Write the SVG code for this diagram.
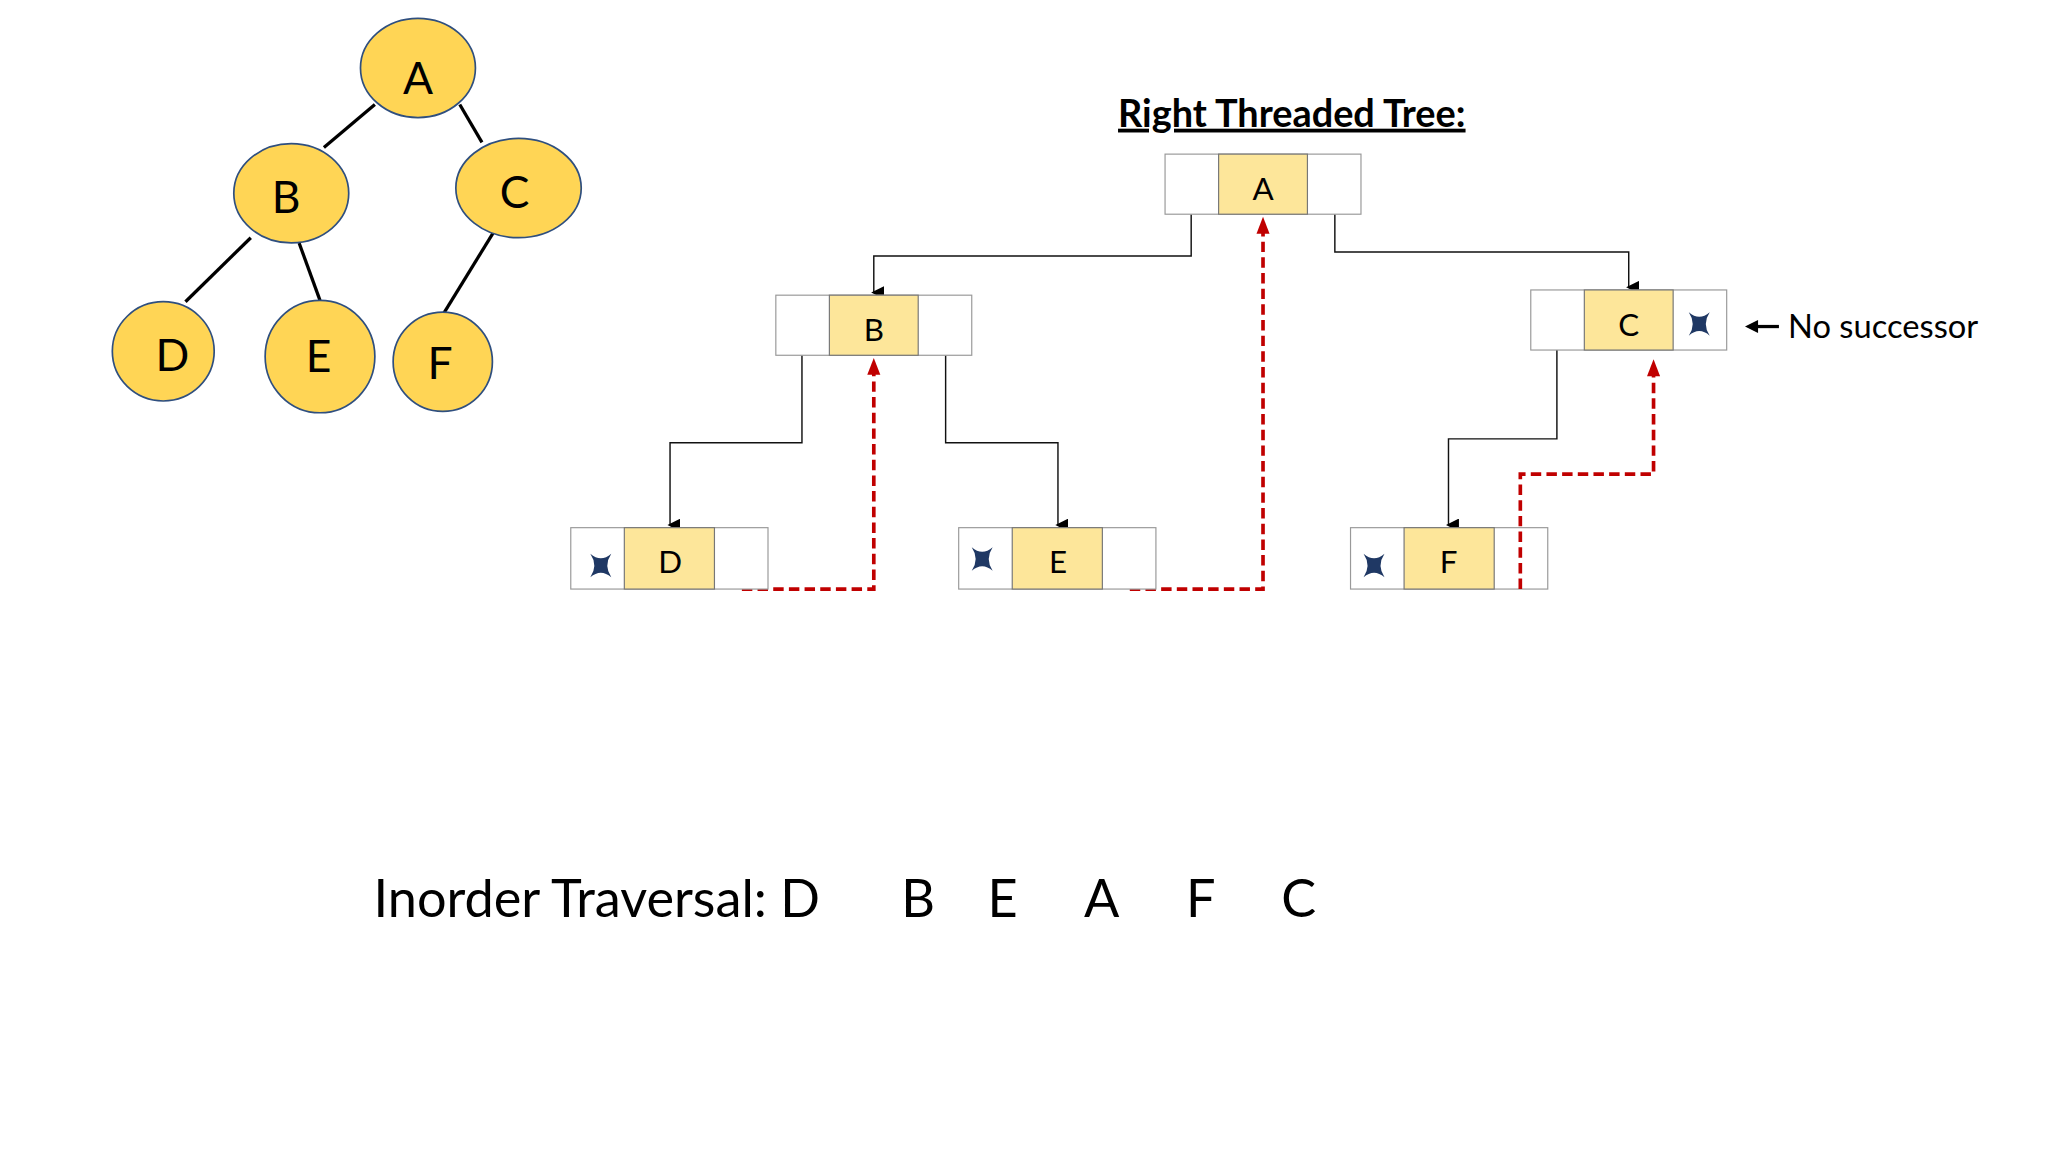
<svg xmlns="http://www.w3.org/2000/svg" width="2048" height="1152" viewBox="0 0 2048 1152">
<defs>
<style>
.el{fill:#ffd555;stroke:#2f4f7f;stroke-width:1.3}
.t{font-family:Lato,"Liberation Sans",sans-serif;fill:#000}
.edge{stroke:#000;stroke-width:2.5}
.cell{fill:#fff;stroke:#999;stroke-width:0.9}
.mid{fill:#fde69a;stroke:#777;stroke-width:0.9}
.con{fill:none;stroke:#111;stroke-width:1.1}
.thr{fill:none;stroke:#c00000;stroke-width:2.8;stroke-dasharray:8,4}
.x{fill:#1f3864}
</style>
<marker id="ab" markerWidth="10" markerHeight="10" refX="5" refY="8" orient="auto-start-reverse" markerUnits="userSpaceOnUse" viewBox="0 0 10 10"><path d="M0,0 L10,0 L5,10 z" fill="#000" transform="rotate(0)"/></marker>
<marker id="ar" markerWidth="10" markerHeight="10" refX="5" refY="2" orient="0" markerUnits="userSpaceOnUse" viewBox="0 0 10 10"><path d="M5,0 L10,10 L0,10 z" fill="#c00000"/></marker>
<path id="xm" d="M-8,-9 Q0,-2 8,-9 Q2,0 8,9 Q0,2 -8,9 Q-2,0 -8,-9 z"/>
</defs>
<rect width="2048" height="1152" fill="#fff"/>
<g transform="scale(1.30612)">
<g id="tree-edges">
<line class="edge" x1="287" y1="80" x2="248" y2="113"/>
<line class="edge" x1="352" y1="80" x2="369" y2="109"/>
<line class="edge" x1="192" y1="182" x2="142" y2="231"/>
<line class="edge" x1="229" y1="186" x2="245" y2="230"/>
<line class="edge" x1="379" y1="176" x2="339" y2="241"/>
</g>
<g id="tA"><ellipse class="el" cx="320" cy="52" rx="44" ry="38"/><text class="t" x="320" y="72" font-size="34" text-anchor="middle">A</text></g>
<g id="tB"><ellipse class="el" cx="223" cy="148" rx="44" ry="38"/><text class="t" x="219" y="163" font-size="34" text-anchor="middle">B</text></g>
<g id="tC"><ellipse class="el" cx="397" cy="144" rx="48" ry="38"/><text class="t" x="394" y="159" font-size="34" text-anchor="middle">C</text></g>
<g id="tD"><ellipse class="el" cx="125" cy="269" rx="39" ry="38"/><text class="t" x="132" y="284" font-size="34" text-anchor="middle">D</text></g>
<g id="tE"><ellipse class="el" cx="245" cy="273" rx="42" ry="43"/><text class="t" x="244" y="285" font-size="34" text-anchor="middle">E</text></g>
<g id="tF"><ellipse class="el" cx="339" cy="277" rx="38" ry="38"/><text class="t" x="337" y="290" font-size="34" text-anchor="middle">F</text></g>

<text class="t" x="856" y="97" font-size="29" font-weight="bold" text-decoration="underline">Right Threaded Tree:</text>

<g id="connectors">
<polyline class="con" points="912,164 912,196 669,196 669,224" marker-end="url(#ab)"/>
<polyline class="con" points="1022,164 1022,193 1247,193 1247,220" marker-end="url(#ab)"/>
<polyline class="con" points="614,272 614,339 513,339 513,402" marker-end="url(#ab)"/>
<polyline class="con" points="724,272 724,339 810,339 810,402" marker-end="url(#ab)"/>
<polyline class="con" points="1192,268 1192,336 1109,336 1109,402" marker-end="url(#ab)"/>
<polyline class="thr" points="568,451 669,451 669,282" />
<path d="M664,287 L669,274 L674,287 z" fill="#c00000"/>
<polyline class="thr" points="865,451 967,451 967,174"/>
<path d="M962,179 L967,166 L972,179 z" fill="#c00000"/>
<polyline class="thr" points="1164,451 1164,363 1266,363 1266,283"/>
<path d="M1261,288 L1266,275 L1271,288 z" fill="#c00000"/>
</g>

<g id="nA"><rect class="cell" x="892" y="118" width="150" height="46"/><rect class="mid" x="933" y="118" width="68" height="46"/><text class="t" x="967" y="153" font-size="24" text-anchor="middle">A</text></g>
<g id="nB"><rect class="cell" x="594" y="226" width="150" height="46"/><rect class="mid" x="635" y="226" width="68" height="46"/><text class="t" x="669" y="261" font-size="24" text-anchor="middle">B</text></g>
<g id="nC"><rect class="cell" x="1172" y="222" width="150" height="46"/><rect class="mid" x="1213" y="222" width="68" height="46"/><text class="t" x="1247" y="257" font-size="24" text-anchor="middle">C</text><use href="#xm" class="x" x="1301" y="248"/></g>
<g id="nD"><rect class="cell" x="437" y="404" width="151" height="47"/><rect class="mid" x="478" y="404" width="69" height="47"/><text class="t" x="513" y="439" font-size="24" text-anchor="middle">D</text><use href="#xm" class="x" x="460" y="433"/></g>
<g id="nE"><rect class="cell" x="734" y="404" width="151" height="47"/><rect class="mid" x="775" y="404" width="69" height="47"/><text class="t" x="810" y="439" font-size="24" text-anchor="middle">E</text><use href="#xm" class="x" x="752" y="428"/></g>
<g id="nF"><rect class="cell" x="1034" y="404" width="151" height="47"/><rect class="mid" x="1075" y="404" width="69" height="47"/><text class="t" x="1109" y="439" font-size="24" text-anchor="middle">F</text><use href="#xm" class="x" x="1052" y="433"/></g>
<polyline class="thr" points="1164,451 1164,404"/>

<g id="nosucc">
<line x1="1345" y1="250" x2="1362" y2="250" stroke="#000" stroke-width="2.5"/>
<path d="M1336,250 L1346,245 L1346,255 z" fill="#000"/>
<text class="t" x="1369" y="259" font-size="25">No successor</text>
</g>

<g id="inorder" class="t" font-size="40">
<text class="t" x="286" y="702">Inorder Traversal: D</text>
<text class="t" x="690" y="702">B</text>
<text class="t" x="756" y="702">E</text>
<text class="t" x="830" y="702">A</text>
<text class="t" x="908" y="702">F</text>
<text class="t" x="981" y="702">C</text>
</g>
</g>
</svg>
